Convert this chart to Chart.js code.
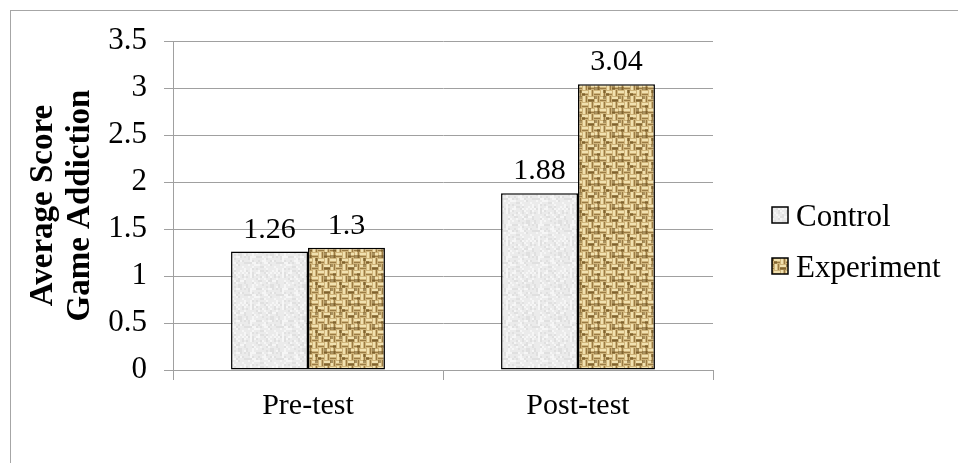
<!DOCTYPE html>
<html>
<head>
<meta charset="utf-8">
<script src="https://cdn.jsdelivr.net/npm/chart.js@4"></script>
<style>
  html, body { margin: 0; padding: 0; background: #fff; }
  #wrap { position: relative; width: 958px; height: 463px; }
  #frame { position: absolute; left: 10px; top: 10px; right: 0; bottom: 0;
           border-top: 1.5px solid #a6a6a6; border-left: 1.5px solid #a6a6a6; }
  canvas { position: absolute; left: 0; top: 0; }
</style>
</head>
<body>
<div id="wrap">
  <div id="frame"></div>
  <canvas id="chart1" width="958" height="463"></canvas>
</div>
<script>
const categories = ['Pre-test', 'Post-test'];
const controlScores = [1.26, 1.88];
const experimentScores = [1.3, 3.04];
const yTicks = [0, 0.5, 1, 1.5, 2, 2.5, 3, 3.5];

const serif = '"Liberation Serif", "Times New Roman", serif';

// little texture tiles for the bar fills
function hash(x, y) {
    let h = (x * 374761393 + y * 668265263) | 0;
    h = (h ^ (h >>> 13)) * 1274126177 | 0;
    return ((h ^ (h >>> 16)) >>> 0) / 4294967295;
}

function greyTexture() {
    const c = document.createElement('canvas');
    c.width = 32; c.height = 32;
    const g = c.getContext('2d');
    g.fillStyle = '#ebebeb';
    g.fillRect(0, 0, 32, 32);
    for (let y = 0; y < 32; y += 2) {
        for (let x = 0; x < 32; x += 2) {
            const v = hash(x, y);
            if (v > 0.75) { g.fillStyle = '#f6f6f6'; g.fillRect(x, y, 2, 2); }
            else if (v < 0.2) { g.fillStyle = '#e0e0e0'; g.fillRect(x, y, 2, 2); }
        }
    }
    return g.createPattern(c, 'repeat');
}

function burlapTexture() {
    const c = document.createElement('canvas');
    c.width = 24; c.height = 24;
    const g = c.getContext('2d');
    g.fillStyle = '#cfb47a';
    g.fillRect(0, 0, 24, 24);
    for (let i = 0; i < 4; i++) {
        for (let j = 0; j < 4; j++) {
            const x = j * 6, y = i * 6;
            if ((i + j) % 2 === 0) {
                g.fillStyle = '#f1e1b0'; g.fillRect(x, y + 1, 6, 2);
                g.fillStyle = '#9a7b44'; g.fillRect(x, y + 4, 6, 1);
            } else {
                g.fillStyle = '#f1e1b0'; g.fillRect(x + 1, y, 2, 6);
                g.fillStyle = '#9a7b44'; g.fillRect(x + 4, y, 1, 6);
            }
        }
    }
    for (let y = 0; y < 24; y += 3) {
        for (let x = 0; x < 24; x += 3) {
            if (hash(x + 7, y + 3) < 0.12) { g.fillStyle = 'rgba(110,80,30,0.55)'; g.fillRect(x, y, 3, 3); }
        }
    }
    return g.createPattern(c, 'repeat');
}

const valueLabels = {
    id: 'valueLabels',
    afterDatasetsDraw(chart) {
        const ctx = chart.ctx;
        ctx.save();
        ctx.font = '30px ' + serif;
        ctx.fillStyle = '#000';
        ctx.textAlign = 'center';
        ctx.textBaseline = 'alphabetic';
        chart.data.datasets.forEach((ds, i) => {
            chart.getDatasetMeta(i).data.forEach((bar, j) => {
                ctx.fillText(String(ds.data[j]), bar.x, bar.y - 14);
            });
        });
        ctx.restore();
    }
};

const sideLegend = {
    id: 'sideLegend',
    afterDraw(chart) {
        const ctx = chart.ctx;
        ctx.save();
        ctx.font = '31px ' + serif;
        ctx.textBaseline = 'alphabetic';
        chart.data.datasets.forEach((ds, i) => {
            const base = 226 + i * 51;
            ctx.fillStyle = ds.backgroundColor;
            ctx.fillRect(772, base - 19, 16, 16);
            ctx.strokeStyle = '#000';
            ctx.lineWidth = 1.5;
            ctx.strokeRect(772, base - 19, 16, 16);
            ctx.fillStyle = '#000';
            ctx.fillText(ds.label, 796, base);
        });
        ctx.restore();
    }
};

const ctx = document.getElementById('chart1').getContext('2d');
const chart1 = new Chart(ctx, {
    type: 'bar',
    data: {
        labels: categories,
        datasets: [
            {
                label: 'Control',
                data: controlScores,
                backgroundColor: greyTexture(),
                borderColor: '#000',
                borderWidth: 1.5,
                borderSkipped: false
            },
            {
                label: 'Experiment',
                data: experimentScores,
                backgroundColor: burlapTexture(),
                borderColor: '#000',
                borderWidth: 1.5,
                borderSkipped: false
            }
        ]
    },
    options: {
        responsive: false,
        animation: false,
        events: [],
        layout: { padding: { left: 0, top: 41, right: 245, bottom: 0 } },
        datasets: { bar: { categoryPercentage: 0.57, barPercentage: 1 } },
        scales: {
            x: {
                grid: { drawOnChartArea: false, color: '#a0a0a0', tickLength: 10, offset: true },
                border: { color: '#a0a0a0' },
                ticks: { color: '#000', font: { family: serif, size: 30 }, padding: 8 },
                afterFit(scale) { scale.height = 93; }
            },
            y: {
                min: 0,
                max: 3.5,
                afterBuildTicks(scale) { scale.ticks = yTicks.map(v => ({ value: v })); },
                grid: { color: '#a0a0a0', tickLength: 9 },
                border: { color: '#a0a0a0' },
                ticks: {
                    color: '#000',
                    font: { family: serif, size: 31 },
                    padding: 17,
                    callback: v => String(v)
                },
                title: {
                    display: true,
                    text: ['Average Score', 'Game Addiction'],
                    color: '#000',
                    font: { family: serif, size: 33, weight: 'bold', lineHeight: 1.12 },
                    padding: { top: 25, bottom: 0 }
                },
                afterFit(scale) { scale.width = 173; }
            }
        },
        plugins: {
            legend: { display: false },
            tooltip: { enabled: false }
        }
    },
    plugins: [valueLabels, sideLegend]
});
</script>
</body>
</html>
